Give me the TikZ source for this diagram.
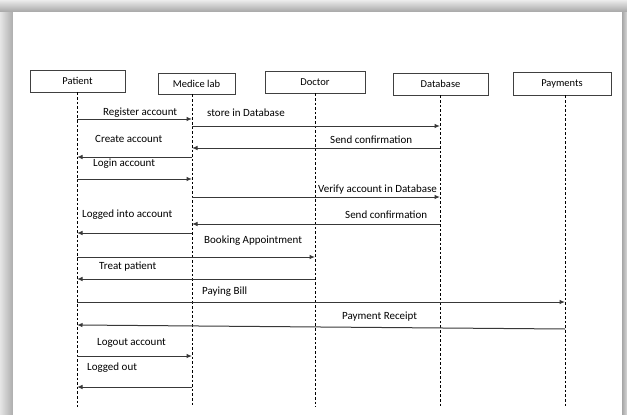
\documentclass[tikz,border=0pt]{standalone}
\usepackage{fontspec}
\setmainfont{Carlito}
\usetikzlibrary{arrows.meta}
\definecolor{lineg}{HTML}{383838}
\definecolor{boxg}{HTML}{404040}
\tikzset{
  actor/.style={draw=boxg, line width=0.9pt, fill=white, inner sep=0pt, font=\fontsize{10.5}{12}\selectfont},
  life/.style={draw=black, line width=0.9pt, dash pattern=on 2.6pt off 2pt},
  msg/.style={draw=lineg, line width=1pt, -{Latex[length=5.5pt,width=4.5pt]}},
  lbl/.style={inner sep=0pt, anchor=west, text=black, font=\fontsize{11}{13}\selectfont}
}
\begin{document}
\begin{tikzpicture}[x=1pt,y=-1pt]
\useasboundingbox (0,0) rectangle (627,415);
% shadow frame
\fill[gray!50] (0,0) rectangle (627,415);
\shade[top color=gray!15, bottom color=gray!70] (0,0) rectangle (627,12);
\shade[left color=gray!20, right color=gray!65] (0,12) rectangle (13,415);
\shade[left color=gray!70, right color=gray!30] (622,12) rectangle (627,415);
\fill[white] (13,12) rectangle (622,415);

% actors
\node[actor, minimum width=95pt, minimum height=22pt] (pat) at (77.5,81) {Patient};
\node[actor, minimum width=77pt, minimum height=21pt] (med) at (196.5,83.5) {Medice lab};
\node[actor, minimum width=100pt, minimum height=22pt] (doc) at (315,82) {Doctor};
\node[actor, minimum width=95pt, minimum height=22pt] (dbs) at (440.5,84) {Database};
\node[actor, minimum width=98pt, minimum height=23pt] (pay) at (562,83.5) {Payments};

% lifeline ends
\coordinate (patE) at (77,407);
\coordinate (medE) at (192,407);
\coordinate (docE) at (315,407);
\coordinate (dbsE) at (440,407);
\coordinate (payE) at (565,407);

\draw[life] (patE |- pat.south) -- (patE);
\draw[life] (medE |- med.south) -- (medE);
\draw[life] (docE |- doc.south) -- (docE);
\draw[life] (dbsE |- dbs.south) -- (dbsE);
\draw[life] (payE |- pay.south) -- (payE);

% messages
\draw[msg] (patE |- 0,119) -- (medE |- 0,119);
\draw[msg] (medE |- 0,126) -- (dbsE |- 0,126);
\draw[msg] (dbsE |- 0,148) -- (medE |- 0,148);
\draw[msg] (medE |- 0,157) -- (patE |- 0,157);
\draw[msg] (patE |- 0,179) -- (medE |- 0,179);
\draw[msg] (medE |- 0,197) -- (dbsE |- 0,197);
\draw[msg] (dbsE |- 0,224) -- (medE |- 0,224);
\draw[msg] (medE |- 0,233) -- (patE |- 0,233);
\draw[msg] (patE |- 0,257) -- (docE |- 0,257);
\draw[msg] (docE |- 0,279) -- (patE |- 0,279);
\draw[msg] (patE |- 0,302) -- (payE |- 0,302);
\draw[msg] (payE |- 0,329) -- (patE |- 0,325);
\draw[msg] (patE |- 0,356) -- (medE |- 0,356);
\draw[msg] (medE |- 0,387) -- (patE |- 0,387);

% labels
\node[lbl] (l1) at (103,113) {Register account};
\node[lbl] (l2) at (207,113) {store in Database};
\node[lbl] (l3) at (330,140) {Send confirmation};
\node[lbl] (l4) at (95,139) {Create account};
\node[lbl] (l5) at (93,164) {Login account};
\node[lbl] (l6) at (318,190) {Verify account in Database};
\node[lbl] (l7) at (345,215) {Send confirmation};
\node[lbl] (l8) at (82,215) {Logged into account};
\node[lbl] (l9) at (204,241) {Booking Appointment};
\node[lbl] (l10) at (99,267) {Treat patient};
\node[lbl] (l11) at (202,292) {Paying Bill};
\node[lbl] (l12) at (342,317) {Payment Receipt};
\node[lbl] (l13) at (97,343) {Logout account};
\node[lbl] (l14) at (87,368) {Logged out};
\end{tikzpicture}
\end{document}
